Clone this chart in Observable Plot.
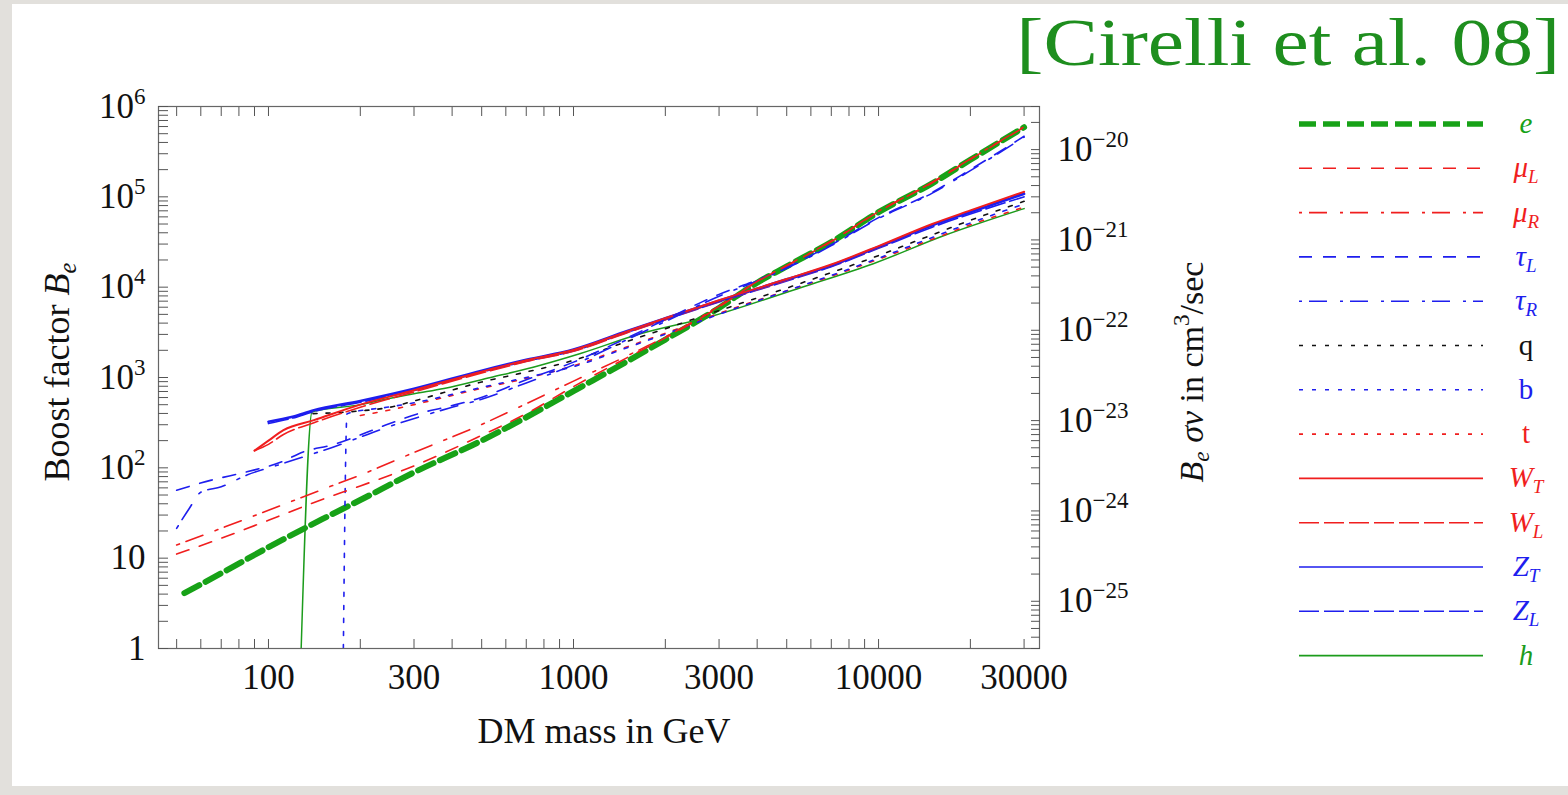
<!DOCTYPE html>
<html>
<head>
<meta charset="utf-8">
<script src="https://cdn.jsdelivr.net/npm/d3@7"></script>
<script src="https://cdn.jsdelivr.net/npm/@observablehq/plot@0.6"></script>
<style>
  html, body { margin: 0; padding: 0; }
  body { width: 1568px; height: 795px; position: relative; overflow: hidden; background: #e2e0dc; font-family: "Liberation Serif", "Times New Roman", serif; }
  #panel { position: absolute; left: 12px; top: 4px; width: 1556px; height: 782px; background: #fff; }
  #chart { position: absolute; left: 0; top: 0; }
  #legend { position: absolute; left: 0; top: 0; }
  .lbl { position: absolute; white-space: nowrap; color: #111; line-height: 1; }
  .lbl sub, .lbl sup { font-size: 0.68em; line-height: 0; }
  .lbl sub { vertical-align: -0.28em; }
  .lbl sup { vertical-align: 0.6em; }
  #title { position: absolute; right: 8px; top: 8px; font-size: 68px; color: #1e8e1e; line-height: 1; white-space: nowrap; transform: scaleX(1.2); transform-origin: right top; }
</style>
</head>
<body>
<div id="panel"></div>
<div id="chart"></div>
<div id="title">[Cirelli et al. 08]</div>
<div class="lbl" style="left:57px; top:372px; font-size:36px; transform: translate(-50%,-50%) rotate(-90deg);">Boost factor <i>B</i><sub><i>e</i></sub></div>
<div class="lbl" style="left:604px; top:731px; font-size:36px; transform: translate(-50%,-50%);">DM mass in GeV</div>
<div class="lbl" style="left:1192px; top:372px; font-size:34px; transform: translate(-50%,-50%) rotate(-90deg);"><i>B</i><sub><i>e</i></sub> <i>σv</i> in cm<sup>3</sup>/sec</div>
<svg id="legend" width="1568" height="795"></svg>
<script>
// ---------- data (DM mass in GeV, boost factor B_e) ----------
const eMass  = [53, 70, 100, 150, 200, 300, 500, 700, 1000, 1500, 2000, 3000, 4000, 5000, 7000, 10000, 15000, 20000, 30000];
const eBoost = [4.1, 6.8, 13.2, 27, 44, 89, 200, 363, 708, 1510, 2630, 5890, 11200, 17000, 31600, 67600, 141000, 257000, 589000];

const muLMass  = [50, 70, 100, 150, 200, 300, 500, 700, 1000, 1500, 2000, 3000, 4000, 5000, 7000, 10000, 15000, 20000, 30000];
const muLBoost = [11.1, 16.6, 26.3, 44.7, 63, 105, 229, 398, 794, 1660, 2750, 6030, 11500, 17200, 32000, 68400, 143000, 260000, 589000];

const muRMass  = [50, 70, 100, 150, 200, 300, 500, 700, 1000, 1500, 2000, 3000, 4000, 5000, 7000, 10000, 15000, 20000, 30000];
const muRBoost = [14, 21.4, 33.9, 57.5, 83.2, 148, 302, 513, 912, 1740, 2820, 6170, 11600, 17400, 32400, 69200, 145000, 263000, 596000];

const tauLMass  = [50, 65, 85, 110, 130, 160, 250, 310, 390, 490, 670, 1000, 1500, 2000, 2650, 3000, 4000, 5000, 7000, 10000, 15000, 20000, 30000];
const tauLBoost = [56.6, 73.1, 90.4, 116, 150, 178, 309, 398, 479, 589, 891, 1480, 2750, 4370, 6920, 8320, 12000, 16600, 29500, 58900, 112000, 200000, 468000];

const tauRMass  = [50, 55, 60, 70, 85, 110, 130, 160, 250, 390, 500, 700, 1000, 1500, 2000, 3000, 4000, 5000, 7000, 10000, 15000, 20000, 30000];
const tauRBoost = [21.4, 35.5, 53.7, 61.7, 83.2, 110, 132, 166, 288, 457, 575, 871, 1380, 2630, 4170, 7940, 11700, 16200, 28800, 57500, 110000, 195000, 457000];

const qMass  = [140, 200, 250, 300, 500, 700, 1000, 1500, 2000, 3000, 5000, 7000, 10000, 15000, 20000, 30000];
const qBoost = [398, 427, 468, 550, 891, 1150, 1550, 2510, 3470, 5500, 9770, 14500, 22400, 38000, 55000, 89100];

const bMass  = [176, 181, 250, 300, 500, 700, 1000, 1500, 2000, 3000, 5000, 7000, 10000, 15000, 20000, 30000];
const bBoost = [1, 398, 473, 525, 776, 1000, 1320, 2140, 3020, 5010, 9120, 13500, 20900, 35500, 51300, 83200];

const tMass  = [200, 250, 300, 500, 700, 1000, 1500, 2000, 3000, 5000, 7000, 10000, 15000, 20000, 30000];
const tBoost = [380, 437, 501, 759, 977, 1350, 2190, 3090, 5130, 9120, 13200, 20400, 33900, 49000, 76700];

const WTMass  = [90, 100, 112, 141, 200, 300, 500, 700, 1000, 1500, 2000, 3000, 5000, 7000, 10000, 15000, 20000, 30000];
const WTBoost = [155, 200, 261, 337, 501, 724, 1160, 1550, 2020, 3240, 4520, 7160, 12300, 17800, 28500, 50100, 70800, 114000];

const WLMass  = [90, 100, 112, 141, 200, 300, 500, 700, 1000, 1500, 2000, 3000, 5000, 7000, 10000, 15000, 20000, 30000];
const WLBoost = [155, 182, 234, 316, 468, 692, 1120, 1500, 1950, 3130, 4370, 6920, 11900, 17200, 27500, 48400, 68400, 111000];

const ZTMass  = [100, 120, 140, 200, 300, 500, 700, 1000, 1500, 2000, 3000, 5000, 7000, 10000, 15000, 20000, 30000];
const ZTBoost = [324, 367, 432, 550, 750, 1190, 1570, 2040, 3270, 4520, 7080, 12200, 17400, 27900, 48400, 67600, 108000];

const ZLMass  = [100, 120, 140, 200, 300, 500, 700, 1000, 1500, 2000, 3000, 5000, 7000, 10000, 15000, 20000, 30000];
const ZLBoost = [309, 355, 417, 531, 716, 1150, 1510, 1970, 3160, 4370, 6840, 11700, 16800, 26900, 46200, 64600, 100000];

const hMass  = [128, 139, 200, 233, 300, 376, 535, 743, 1054, 1667, 2785, 5610, 9610, 16500, 30000];
const hBoost = [1, 417, 501, 560, 661, 756, 1000, 1310, 1845, 3070, 4680, 10000, 18200, 37500, 74100];

// ---------- ticks ----------
const xLabelTicks = [100, 300, 1000, 3000, 10000, 30000];
const yMajorTicks = [1, 10, 100, 1e3, 1e4, 1e5, 1e6];
const rightMajorExp = [-25, -24, -23, -22, -21, -20];   // sigma v in cm^3/sec
const sigmaRef = 3e-26;                                 // B_e = 1  <->  3e-26 cm^3/s

// ---------- styles ----------
const GREEN_E = "#17a217", GREEN_H = "#1c9c1c", RED = "#f01e1e", BLUE = "#1e1eee", BLACK = "#111111";

const series = [
  {key: "e",   label: ["e", ""],  italic: true,  mass: eMass,   boost: eBoost,   stroke: GREEN_E, width: 6,   dash: "17,7"},
  {key: "h",   label: ["h", ""],  italic: true,  mass: hMass,   boost: hBoost,   stroke: GREEN_H, width: 1.5, dash: null},
  {key: "t",   label: ["t", ""],  italic: false, mass: tMass,   boost: tBoost,   stroke: RED,     width: 1.6, dash: "4,9"},
  {key: "b",   label: ["b", ""],  italic: false, mass: bMass,   boost: bBoost,   stroke: BLUE,    width: 1.6, dash: "4,9"},
  {key: "q",   label: ["q", ""],  italic: false, mass: qMass,   boost: qBoost,   stroke: BLACK,   width: 1.6, dash: "4,9"},
  {key: "ZL",  label: ["Z", "L"], italic: true,  mass: ZLMass,  boost: ZLBoost,  stroke: BLUE,    width: 1.6, dash: "20,5"},
  {key: "WL",  label: ["W", "L"], italic: true,  mass: WLMass,  boost: WLBoost,  stroke: RED,     width: 1.6, dash: "20,5"},
  {key: "ZT",  label: ["Z", "T"], italic: true,  mass: ZTMass,  boost: ZTBoost,  stroke: BLUE,    width: 2.6, dash: null},
  {key: "WT",  label: ["W", "T"], italic: true,  mass: WTMass,  boost: WTBoost,  stroke: RED,     width: 2,   dash: null},
  {key: "tauR",label: ["τ", "R"], italic: true,  mass: tauRMass,boost: tauRBoost,stroke: BLUE,    width: 1.6, dash: "3,7,18,13"},
  {key: "tauL",label: ["τ", "L"], italic: true,  mass: tauLMass,boost: tauLBoost,stroke: BLUE,    width: 1.6, dash: "13,11"},
  {key: "muR", label: ["μ", "R"], italic: true,  mass: muRMass, boost: muRBoost, stroke: RED,     width: 1.6, dash: "3,7,18,13"},
  {key: "muL", label: ["μ", "L"], italic: true,  mass: muLMass, boost: muLBoost, stroke: RED,     width: 1.6, dash: "13,11"}
];
const legendOrder = ["e", "muL", "muR", "tauL", "tauR", "q", "b", "t", "WT", "WL", "ZT", "ZL", "h"];

// tick value lists
const xMinor = [];
for (let p = 1; p <= 4; p++) for (let k = 1; k <= 9; k++) { const v = k * 10 ** p; if (v >= 50 && v <= 30000) xMinor.push(v); }
const yMinor = [];
for (let p = 0; p <= 5; p++) for (let k = 1; k <= 9; k++) yMinor.push(k * 10 ** p);
yMinor.push(1e6);
const rightMajorB = rightMajorExp.map(n => 10 ** n / sigmaRef);
const rightMinorB = [];
for (let n = -26; n <= -20; n++) for (let k = 1; k <= 9; k++) { const B = k * 10 ** (n + 26) / 3; if (B >= 1 && B <= 1e6) rightMinorB.push(B); }

const rows = s => s.mass.map((m, i) => ({m, b: s.boost[i]}));

const plot = Plot.plot({
  width: 1568, height: 795,
  marginLeft: 158, marginRight: 529, marginTop: 106, marginBottom: 147,
  style: {background: "transparent", fontFamily: "'Liberation Serif', 'Times New Roman', serif", fontSize: "35px", color: "#111", overflow: "visible"},
  x: {type: "log", domain: [43.6, 33700]},
  y: {type: "log", domain: [1, 1e6]},
  marks: [
    ...series.map(s => Plot.line(rows(s), {x: "m", y: "b", stroke: s.stroke, strokeWidth: s.width, strokeDasharray: s.dash, curve: "monotone-x", clip: true})),
    Plot.frame({stroke: "#666", strokeWidth: 1.2}),
    Plot.axisX({anchor: "bottom", ticks: xMinor, tickSize: -9, fill: "none", stroke: "#555", label: null}),
    Plot.axisX({anchor: "top", ticks: xMinor, tickSize: -9, fill: "none", stroke: "#555", label: null}),
    Plot.axisY({anchor: "left", ticks: yMinor, tickSize: -10, fill: "none", stroke: "#555", label: null}),
    Plot.axisY({anchor: "right", ticks: rightMinorB, tickSize: -9, fill: "none", stroke: "#555", label: null}),
    Plot.axisX({anchor: "bottom", ticks: xLabelTicks, tickSize: 0, tickPadding: 16, tickFormat: d => String(d), fill: "#111", label: null}),
    Plot.axisY({anchor: "left", ticks: yMajorTicks, tickSize: 0, tickPadding: 13, fill: "#111", label: null,
      tickFormat: d => { const e = Math.round(Math.log10(d)); return e === 0 ? "1" : e === 1 ? "10" : "10^" + e; }}),
    Plot.text(rightMajorB, {y: d => d, frameAnchor: "right", dx: 18, textAnchor: "start", lineAnchor: "middle", fill: "#111",
      text: d => "10^" + Math.round(Math.log10(d * sigmaRef))})
  ]
});
document.getElementById("chart").appendChild(plot);

// superscript exponents in tick labels
plot.querySelectorAll("text").forEach(t => {
  const s = t.textContent;
  if (!s.includes("^")) return;
  const [base, exp] = s.split("^");
  t.textContent = "";
  const ns = "http://www.w3.org/2000/svg";
  const a = document.createElementNS(ns, "tspan"); a.textContent = base; t.appendChild(a);
  const b = document.createElementNS(ns, "tspan"); b.textContent = exp.replace("-", "\u2212");
  b.setAttribute("dy", "-14"); b.setAttribute("font-size", "23px"); t.appendChild(b);
});

// legend
const leg = d3.select("#legend");
const byKey = Object.fromEntries(series.map(s => [s.key, s]));
legendOrder.forEach((k, i) => {
  const s = byKey[k];
  const y = 124 + i * 44.3;
  leg.append("line").attr("x1", 1299).attr("x2", 1483).attr("y1", y).attr("y2", y)
    .attr("stroke", s.stroke).attr("stroke-width", k === "e" ? 5.5 : 1.6)
    .attr("stroke-dasharray", s.dash);
  const txt = leg.append("text").attr("x", 1526).attr("y", y + 9).attr("text-anchor", "middle")
    .attr("font-family", "'Liberation Serif', serif").attr("font-size", 29)
    .attr("fill", s.stroke === BLACK ? "#111" : s.stroke)
    .attr("font-style", s.italic ? "italic" : "normal");
  txt.append("tspan").text(s.label[0]);
  if (s.label[1]) txt.append("tspan").attr("dy", 6).attr("font-size", 19).text(s.label[1]);
});
</script>
</body>
</html>
